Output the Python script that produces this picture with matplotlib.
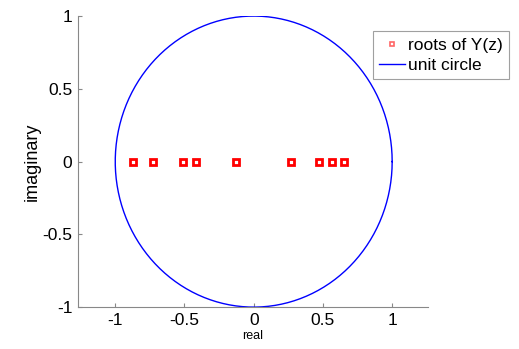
import numpy as np
import matplotlib
matplotlib.use("Agg")
import matplotlib.pyplot as plt
from matplotlib.lines import Line2D

plt.rcParams['font.family'] = ['Liberation Sans', 'DejaVu Sans']

roots_real = [-0.875, -0.728, -0.514, -0.417, -0.128, 0.269, 0.471, 0.569, 0.653]
roots_imag = [0, 0, 0, 0, 0, 0, 0, 0, 0]
theta = np.linspace(0, 2 * np.pi, 400)
xticks = [-1, -0.5, 0, 0.5, 1]
yticks = [-1, -0.5, 0, 0.5, 1]

fig = plt.figure(figsize=(5.19, 3.49), dpi=100)
ax = fig.add_axes([0.150, 0.120, 0.675, 0.834])
ax.plot(roots_real, roots_imag, 's', color='red', markerfacecolor='white',
        markersize=3.8, markeredgewidth=2.0, linestyle='none')
ax.plot(np.cos(theta), np.sin(theta), color='blue', linewidth=1.0)
ax.set_xlim(-1.27, 1.26)
ax.set_ylim(-1, 1)
ax.set_xticks(xticks)
ax.set_xticklabels(['-1', '-0.5', '0', '0.5', '1'])
ax.set_yticks(yticks)
ax.set_yticklabels(['-1', '-0.5', '0', '0.5', '1'])
for s in ['top', 'right']:
    ax.spines[s].set_visible(False)
for s in ['left', 'bottom']:
    ax.spines[s].set_color('#888888')
ax.tick_params(direction='in', length=3, color='#888888', labelsize=12.5, pad=4)
ax.set_xlabel('real', fontsize=9, labelpad=2)
ax.set_ylabel('imaginary', fontsize=13, labelpad=1)
handles = [Line2D([], [], marker='s', color='#ff6666', markerfacecolor='white',
                  markersize=3.0, markeredgewidth=1.2, linestyle='none'),
           Line2D([], [], color='blue', linewidth=1.0)]
leg = fig.legend(handles, ['roots of Y(z)', 'unit circle'], loc='upper left',
                 bbox_to_anchor=(0.718, 0.910), fontsize=12.5,
                 frameon=True, fancybox=False, edgecolor='#888888',
                 handlelength=1.5, handletextpad=0.2, borderpad=0.35,
                 labelspacing=0.3, borderaxespad=0)
leg.get_frame().set_linewidth(0.8)
fig.savefig('out.png', dpi=100)
